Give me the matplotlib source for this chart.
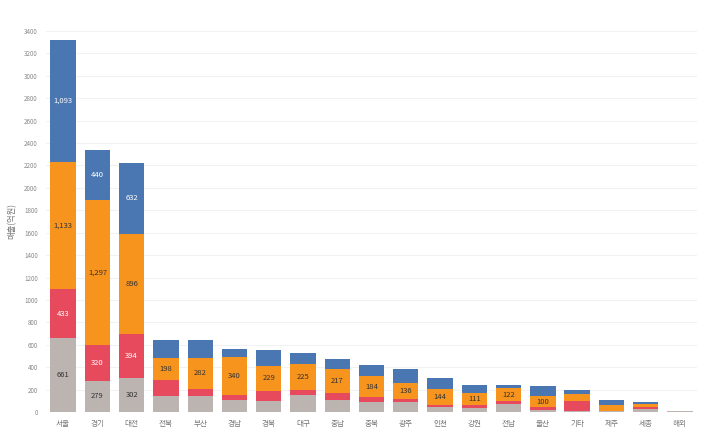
import matplotlib
matplotlib.use("Agg")
import matplotlib.pyplot as plt
import numpy as np

plt.rcParams['font.family'] = ['Noto Sans CJK KR', 'DejaVu Sans']

regions = ['서울', '경기', '대전', '전북', '부산', '경남', '경북', '대구', '충남', '충북',
           '광주', '인천', '강원', '전남', '울산', '기타', '제주', '세종', '해외']
grey_vals   = [661, 279, 302, 146, 141, 107, 96, 149, 107, 87, 87, 42, 40, 71, 20, 5, 8, 30, 10]
red_vals    = [433, 320, 394, 140, 63, 42, 89, 50, 60, 47, 32, 21, 20, 24, 21, 89, 5, 12, 0]
orange_vals = [1133, 1297, 896, 198, 282, 340, 229, 225, 217, 184, 136, 144, 111, 122, 100, 65, 51, 30, 0]
blue_vals   = [1093, 440, 632, 155, 155, 75, 137, 104, 89, 104, 130, 96, 70, 21, 95, 39, 47, 20, 0]

yticks = list(range(0, 3401, 200))

series = [
    (grey_vals, '#bcb4b0', '#333333'),
    (red_vals, '#e64a5c', 'white'),
    (orange_vals, '#f7941e', '#333333'),
    (blue_vals, '#4a76b2', 'white'),
]

fig = plt.figure(figsize=(7.27, 4.37), dpi=100)
ax = fig.add_axes([0.0633, 0.0572, 0.8955, 0.872])

x = np.arange(len(regions))
bottom = np.zeros(len(regions))
for si, (vals, color, tcolor) in enumerate(series):
    v = np.array(vals, dtype=float)
    ax.bar(x, v, bottom=bottom, width=0.74, color=color, zorder=2)
    for i in range(len(regions)):
        show = False
        if i < 3:
            show = True
        elif si == 2 and i <= 14:
            show = True
        if show and v[i] > 0:
            ax.text(x[i], bottom[i] + v[i] / 2, f"{int(v[i]):,}", ha='center', va='center',
                    fontsize=5.5, color=tcolor, zorder=3)
    bottom += v

ax.set_xlim(-0.5, len(regions) - 0.5)
ax.set_ylim(0, 3400)
ax.set_yticks(yticks)
ax.set_yticklabels([str(t) for t in yticks], fontsize=4.5, color='#888888')
ax.set_xticks(x)
ax.set_xticklabels(regions, fontsize=5.5, color='#777777')
ax.tick_params(axis='both', length=0, pad=6)
ax.yaxis.grid(True, color='#f2f2f2', linewidth=0.8, zorder=0)
ax.set_axisbelow(True)
for s in ax.spines.values():
    s.set_visible(False)
ax.set_ylabel('매출(억원)', fontsize=6, color='#777777', labelpad=5)

fig.savefig('out.png', dpi=100)
